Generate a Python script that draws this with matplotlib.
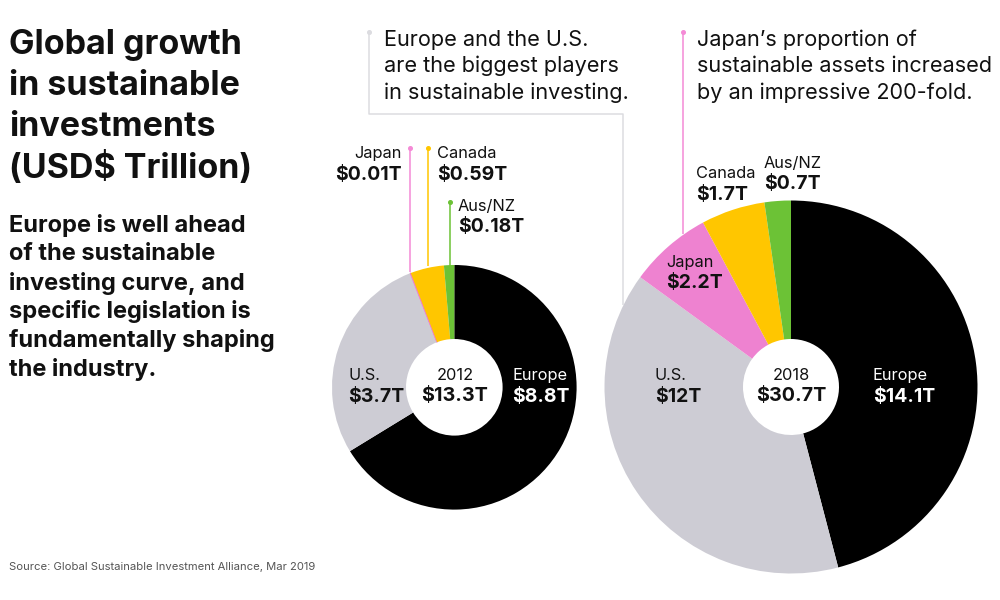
import matplotlib
matplotlib.use('Agg')
import matplotlib.pyplot as plt

plt.rcParams['font.family'] = ['Inter', 'DejaVu Sans']

regions = ['Europe', 'U.S.', 'Japan', 'Canada', 'Aus/NZ']
colors = ['#000000', '#cdccd4', '#ee82d0', '#ffc600', '#6cc236']

values_2012 = [8.8, 3.7, 0.01, 0.59, 0.18]
values_2018 = [14.1, 12.0, 2.2, 1.7, 0.7]

labels_2012 = ['$8.8T', '$3.7T', '$0.01T', '$0.59T', '$0.18T']
labels_2018 = ['$14.1T', '$12T', '$2.2T', '$1.7T', '$0.7T']

title_lines = ['Global growth', 'in sustainable', 'investments', '(USD$ Trillion)']
sub_lines = ['Europe is well ahead', 'of the sustainable', 'investing curve, and',
             'specific legislation is', 'fundamentally shaping', 'the industry.']
note_left = ['Europe and the U.S.', 'are the biggest players', 'in sustainable investing.']
note_right = ['Japan\u2019s proportion of', 'sustainable assets increased', 'by an impressive 200-fold.']
source = 'Source: Global Sustainable Investment Alliance, Mar 2019'

INK = '#111111'
H = 600


def Y(y):
    return H - y


def esc(s):
    return s.replace('$', r'\$')


def label(ax, x, y, name, value, ha='left', color=INK):
    # name on top, bold value underneath
    ax.text(x, Y(y), name, fontsize=11.8, ha=ha, va='center', color=color)
    ax.text(x, Y(y + 21), esc(value), fontsize=14, fontweight='bold', ha=ha, va='center', color=color)


def leader(ax, xs, ys, color):
    ax.plot(xs, [Y(v) for v in ys], color=color, lw=1.1, solid_capstyle='butt', zorder=1)
    ax.plot(xs[0], Y(ys[0]), 'o', color=color, ms=2.6, zorder=1)


fig = plt.figure(figsize=(10, 6), dpi=100)
ax = fig.add_axes([0, 0, 1, 1])

wedges_2012, _ = ax.pie(values_2012, colors=colors, startangle=90, counterclock=False, center=(454.3, Y(387.3)),
                        radius=122.3, wedgeprops=dict(width=74, linewidth=0), frame=True)
# the 2012 Japan slice is thinner than a pixel, so give it an outline to stay visible
wedges_2012[2].set_edgecolor(colors[2])
wedges_2012[2].set_linewidth(0.7)
ax.pie(values_2018, colors=colors, startangle=90, counterclock=False, center=(791, Y(387)),
       radius=186.5, wedgeprops=dict(width=138.5, linewidth=0), frame=True)
ax.set_xlim(0, 1000)
ax.set_ylim(0, H)
ax.set_aspect('equal')
ax.axis('off')

for i, line in enumerate(title_lines):
    ax.text(9, Y(45 + i * 41), esc(line), fontsize=24.5, fontweight='bold', va='center', color=INK)
for i, line in enumerate(sub_lines):
    ax.text(9, Y(225.5 + i * 28.8), line, fontsize=17, fontweight='bold', va='center', color=INK)
for i, line in enumerate(note_left):
    ax.text(384, Y(39.5 + i * 26.5), line, fontsize=15.6, va='center', color=INK)
for i, line in enumerate(note_right):
    ax.text(697, Y(39.5 + i * 26.5), line, fontsize=15.6, va='center', color=INK)
ax.text(9, Y(566.5), source, fontsize=8.1, va='center', color='#555555')

leader(ax, [369, 369, 623, 623], [32, 114, 114, 305], '#dcdce0')
leader(ax, [683, 683], [32, 234], '#f48ad6')
leader(ax, [410, 410], [148, 272], '#f48ad6')
leader(ax, [428, 428], [148, 266], '#ffc600')
leader(ax, [449.5, 449.5], [202, 266], '#6cc236')

# 2012 labels
label(ax, 512, 375.5, regions[0], labels_2012[0], color='#ffffff')
label(ax, 348, 375.5, regions[1], labels_2012[1])
label(ax, 402, 153.5, regions[2], labels_2012[2], ha='right')
label(ax, 437, 153.5, regions[3], labels_2012[3])
label(ax, 458, 206.5, regions[4], labels_2012[4])
ax.text(455, Y(375.5), '2012', fontsize=11.8, ha='center', va='center', color=INK)
ax.text(455, Y(396), r'\$13.3T', fontsize=14.2, fontweight='bold', ha='center', va='center', color=INK)

# 2018 labels
label(ax, 873, 375.5, regions[0], labels_2018[0], color='#ffffff')
label(ax, 655, 375.5, regions[1], labels_2018[1])
label(ax, 666, 262, regions[2], labels_2018[2])
label(ax, 696, 174, regions[3], labels_2018[3])
label(ax, 764, 163, regions[4], labels_2018[4])
ax.text(791, Y(375.5), '2018', fontsize=11.8, ha='center', va='center', color=INK)
ax.text(791, Y(396), r'\$30.7T', fontsize=14.2, fontweight='bold', ha='center', va='center', color=INK)

fig.savefig('out.png', dpi=100, facecolor='white')
